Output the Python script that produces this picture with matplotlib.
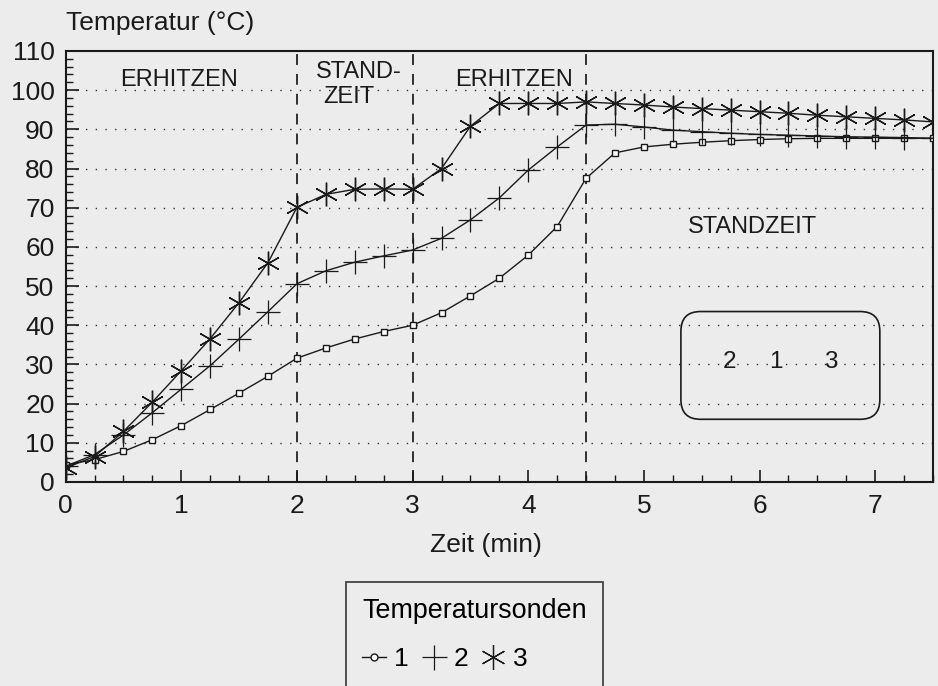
import numpy as np
import matplotlib
matplotlib.use("Agg")
import matplotlib.pyplot as plt
from matplotlib.patches import FancyBboxPatch
from matplotlib.lines import Line2D

plt.rcParams['font.family'] = ['Liberation Sans', 'DejaVu Sans']

zeit = [0, 0.25, 0.5, 0.75, 1.0, 1.25, 1.5, 1.75, 2.0, 2.25, 2.5, 2.75, 3.0, 3.25, 3.5, 3.75,
        4.0, 4.25, 4.5, 4.75, 5.0, 5.25, 5.5, 5.75, 6.0, 6.25, 6.5, 6.75, 7.0, 7.25, 7.5]
sonde1 = [4.4, 5.7, 7.8, 10.8, 14.4, 18.5, 22.7, 27.0, 31.6, 34.2, 36.5, 38.4, 40.0, 43.2, 47.5, 52.0,
          57.9, 65.2, 77.5, 84.0, 85.5, 86.2, 86.7, 87.1, 87.4, 87.6, 87.7, 87.7, 87.7, 87.7, 87.7]
sonde2 = [4.0, 7.0, 12.0, 17.7, 23.7, 29.7, 36.5, 43.5, 50.6, 53.9, 56.1, 57.7, 59.2, 62.2, 66.9, 72.5,
          79.6, 85.5, 91.1, 91.3, 90.6, 89.8, 89.4, 89.0, 88.7, 88.5, 88.3, 88.1, 88.0, 87.9, 87.7]
sonde3 = [3.6, 6.5, 12.9, 20.4, 28.4, 36.6, 45.8, 56.0, 70.1, 73.4, 74.7, 74.8, 74.7, 80.0, 90.8, 96.6,
          96.6, 96.6, 97.0, 96.6, 96.2, 95.7, 95.3, 94.9, 94.5, 94.1, 93.6, 93.2, 92.8, 92.4, 91.9]
phasen_grenzen = [2.0, 3.0, 4.5]
xticks = [0, 1, 2, 3, 4, 5, 6, 7]
yticks = [0, 10, 20, 30, 40, 50, 60, 70, 80, 90, 100, 110]
labels = ['1', '2', '3']

bg = '#ececec'
fig = plt.figure(figsize=(9.38, 6.86), dpi=100, facecolor=bg)
ax = fig.add_axes([0.070, 0.2974, 0.9247, 0.6283], facecolor=bg)
ax.set_xlim(0, 7.5)
ax.set_ylim(0, 110)

for y in yticks[1:-1]:
    ax.axhline(y, color='#333333', lw=1.0, ls=(0, (1, 6)), zorder=1)
for xv in phasen_grenzen:
    ax.axvline(xv, color='#222222', lw=1.3, ls=(0, (6, 5)), zorder=1)

lc = '#1a1a1a'
ax.plot(zeit, sonde1, color=lc, lw=1.0, marker='s', ms=4.5, mfc='white', mec=lc, mew=1.0, zorder=3)
ax.plot(zeit, sonde2, color=lc, lw=1.0, marker='+', ms=17, mew=0.9, zorder=3)
ax.plot(zeit, sonde3, color=lc, lw=1.0, marker=(6, 2, 0), ms=17, mew=1.0, zorder=3)

ax.set_xticks(xticks)
ax.set_yticks(yticks)
ax.set_xticks(np.arange(0, 7.51, 0.25), minor=True)
ax.set_yticks(np.arange(0, 110.1, 2), minor=True)
ax.tick_params(axis='both', which='major', direction='in', length=9, width=1.2,
               labelsize=19, colors='#1a1a1a')
ax.tick_params(axis='both', which='minor', direction='in', length=5, width=1.0, colors='#1a1a1a')
ax.tick_params(axis='x', pad=9)
ax.tick_params(axis='y', pad=8)
for s in ax.spines.values():
    s.set_linewidth(1.5)
    s.set_color('#1a1a1a')

tk = dict(fontsize=17, color='#1a1a1a', ha='center', va='center')
ax.text(0.98, 102.7, 'ERHITZEN', **tk)
ax.text(2.165, 104.7, 'STAND-', **dict(tk, ha='left'))
ax.text(2.225, 98.2, 'ZEIT', **dict(tk, ha='left'))
ax.text(3.875, 102.7, 'ERHITZEN', **tk)
ax.text(5.94, 65.2, 'STANDZEIT', **tk)

box = FancyBboxPatch((5.32, 16.0), 1.72, 27.5, boxstyle='round,pad=0,rounding_size=0.17',
                     mutation_aspect=29.5, fc='none', ec='#1a1a1a', lw=1.2, zorder=2)
ax.add_patch(box)
tk2 = dict(tk, fontsize=17.5)
for xv, t in zip([5.74, 6.145, 6.62], ['2', '1', '3']):
    ax.text(xv, 30.7, t, **tk2)

fig.text(0.070, 0.966, 'Temperatur (°C)', fontsize=19, color='#1a1a1a', ha='left', va='center')
fig.text(0.518, 0.2055, 'Zeit (min)', fontsize=19, color='#1a1a1a', ha='center', va='center')

handles = [Line2D([], [], color=lc, lw=1.0, marker='o', ms=5, mfc='white', mec=lc),
           Line2D([], [], color=lc, lw=0, marker='+', ms=18, mew=0.9),
           Line2D([], [], color=lc, lw=0, marker=(6, 2, 0), ms=18, mew=0.9)]
leg = fig.legend(handles, labels, title='Temperatursonden', ncol=3, loc='upper left',
                 bbox_to_anchor=(0.3689, 0.1516), fontsize=19, title_fontsize=19.4,
                 frameon=True, fancybox=False, edgecolor='#1a1a1a', facecolor=bg,
                 handlelength=0.9, handletextpad=0.3, columnspacing=0.5, borderpad=0.62,
                 labelspacing=0.85, alignment='left', borderaxespad=0)
leg.get_frame().set_linewidth(1.3)

fig.savefig('out.png', dpi=100, facecolor=bg)
